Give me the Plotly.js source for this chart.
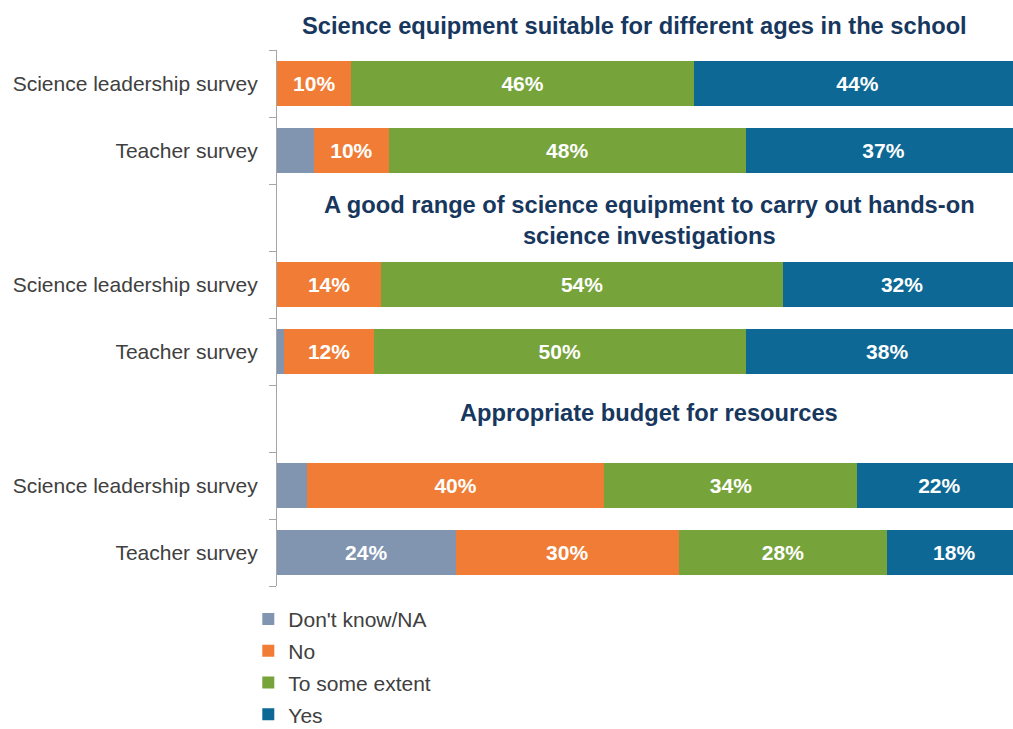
<!DOCTYPE html>
<html>
<head>
<meta charset="utf-8">
<script src="https://cdn.plot.ly/plotly-3.0.1.min.js"></script>
<style>html,body{margin:0;padding:0;background:#fff;}#chart{width:1013px;height:729px;}</style>
</head>
<body>
<div id="chart"></div>
<script>
// slot positions of the six bars (groups separated by title rows)
const rowPos = [0, 1, 3, 4, 6, 7];
const rowLabels = ["Science leadership survey", "Teacher survey",
                   "Science leadership survey", "Teacher survey",
                   "Science leadership survey", "Teacher survey"];
const groupTitles = ["Science equipment suitable for different ages in the school",
                     "A good range of science equipment to carry out hands-on<br>science investigations",
                     "Appropriate budget for resources"];

const dontKnow = [0, 5, 0, 1, 4, 24];
const no       = [10, 10, 14, 12, 40, 30];
const someExt  = [46, 48, 54, 50, 34, 28];
const yes      = [44, 37, 32, 38, 22, 18];

const seriesNames = ["Don't know/NA", "No", "To some extent", "Yes"];
const seriesColors = ["#8195b1", "#f07c35", "#76a33a", "#0d6895"];
const seriesValues = [dontKnow, no, someExt, yes];
const minLabel = 8;

const FONT = 'Liberation Sans, Arial, sans-serif';

const traces = seriesValues.map((vals, i) => ({
  type: 'bar',
  orientation: 'h',
  name: seriesNames[i],
  legendgroup: 'g' + i,
  x: vals,
  y: rowPos,
  width: 0.66,
  marker: {color: seriesColors[i], line: {width: 0}},
  text: vals.map(v => v >= minLabel ? v + '%' : ''),
  textposition: 'inside',
  insidetextanchor: 'middle',
  constraintext: 'none',
  textfont: {family: FONT, size: 21, color: '#ffffff', weight: 'bold'},
  hoverinfo: 'x+name'
}));

const boundaries = [];
for (let k = -0.5; k <= 7.5; k += 1) boundaries.push(k);

const titleFont = {size: 23.7, color: '#17375e', family: FONT};
const annotations = [
  {text: '<b>' + groupTitles[0] + '</b>', x: 48, xref: 'x', y: 1.0448, yref: 'paper',
   xanchor: 'center', yanchor: 'middle', showarrow: false, align: 'center', font: titleFont},
  {text: '<b>' + groupTitles[1] + '</b>', x: 50, xref: 'x', y: 2.04, yref: 'y',
   xanchor: 'center', yanchor: 'middle', showarrow: false, align: 'center', font: titleFont},
  {text: '<b>' + groupTitles[2] + '</b>', x: 50, xref: 'x', y: 4.92, yref: 'y',
   xanchor: 'center', yanchor: 'middle', showarrow: false, align: 'center', font: titleFont}
];

const layout = {
  width: 1013, height: 729,
  barmode: 'stack',
  margin: {l: 277, r: 0, t: 50, b: 143, autoexpand: false},
  paper_bgcolor: '#ffffff', plot_bgcolor: '#ffffff',
  font: {family: FONT, color: '#404040', size: 21},
  xaxis: {range: [0, 98.9], showgrid: false, zeroline: false, showticklabels: false, ticks: '', showline: false, fixedrange: true},
  yaxis: {
    range: [7.5, -0.5], tickmode: 'array', tickvals: rowPos, ticktext: rowLabels,
    ticks: 'outside', ticklen: 14, tickcolor: 'rgba(0,0,0,0)',
    showline: true, linecolor: '#a6a6a6', linewidth: 1, showgrid: false, zeroline: false,
    tickfont: {size: 21, color: '#404040'},
    minor: {tickmode: 'array', tickvals: boundaries, ticks: 'outside', ticklen: 7, tickcolor: '#a6a6a6', tickwidth: 1, showgrid: false}
  },
  showlegend: true,
  legend: {orientation: 'v', x: -0.039, xanchor: 'left', y: -0.0238, yanchor: 'top', traceorder: 'grouped',
           tracegroupgap: 1.5,
           font: {size: 21, color: '#404040'}, bgcolor: 'rgba(0,0,0,0)', itemwidth: 30},
  annotations: annotations
};

Plotly.newPlot('chart', traces, layout, {displayModeBar: false, staticPlot: true});
</script>
</body>
</html>
